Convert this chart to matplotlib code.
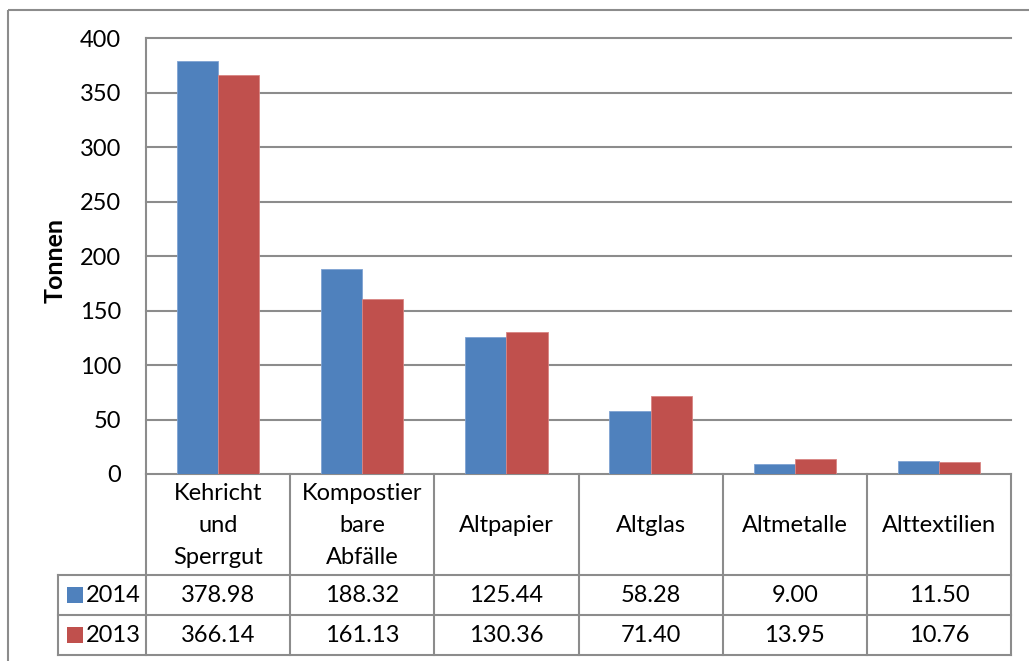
import matplotlib
matplotlib.use("Agg")
import matplotlib.pyplot as plt
from matplotlib.transforms import blended_transform_factory
from matplotlib.patches import Rectangle
import numpy as np

plt.rcParams['font.family'] = ['Lato', 'DejaVu Sans']

# Abfallmengen in Tonnen
kategorien = ["Kehricht\nund\nSperrgut", "Kompostier\nbare\nAbfälle", "Altpapier",
              "Altglas", "Altmetalle", "Alttextilien"]
jahre = ["2014", "2013"]
werte_2014 = [378.98, 188.32, 125.44, 58.28, 9.00, 11.50]
werte_2013 = [366.14, 161.13, 130.36, 71.40, 13.95, 10.76]
y_ticks = [0, 50, 100, 150, 200, 250, 300, 350, 400]

farben = ["#4F81BD", "#C0504D"]
grau = "#8C8C8C"
fs = 17

W, H = 1029, 661
fig = plt.figure(figsize=(W / 100, H / 100), dpi=100)

# Überlagerung in Pixelkoordinaten für Rahmen und Tabelle
over = fig.add_axes([0, 0, 1, 1], zorder=0)
over.set_xlim(0, W)
over.set_ylim(H, 0)
over.axis("off")
over.add_patch(Rectangle((8, 10), W + 20, H + 20, fill=False, ec=grau, lw=1.5,
                         clip_on=False))

ax_l, ax_r, ax_t, ax_b = 146, 1011, 38.5, 474
ax = fig.add_axes([ax_l / W, 1 - ax_b / H, (ax_r - ax_l) / W, (ax_b - ax_t) / H], zorder=1)
ax.patch.set_alpha(0)

x = np.arange(len(kategorien))
bw = 1 / 3.5
ax.bar(x - bw / 2, werte_2014, bw, color=farben[0], edgecolor="#7FA3D3", lw=0.6, zorder=3)
ax.bar(x + bw / 2, werte_2013, bw, color=farben[1], edgecolor="#D98583", lw=0.6, zorder=3)

ax.set_xlim(-0.5, len(kategorien) - 0.5)
ax.set_ylim(0, 400)
ax.set_yticks(y_ticks)
ax.set_yticklabels([str(v) for v in y_ticks], fontsize=fs)
ax.tick_params(axis="y", length=0, pad=18)
ax.set_xticks([])
for yv in y_ticks[1:]:
    ax.axhline(yv, color=grau, lw=1.5, zorder=0, clip_on=False)
for s in ["top", "right", "bottom"]:
    ax.spines[s].set_visible(False)
ax.spines["left"].set_color(grau)
ax.spines["left"].set_linewidth(1.5)
ax.set_ylabel("Tonnen", fontsize=18, fontweight="bold")
ax.yaxis.set_label_coords(-0.0913, 0.49)

# Datentabelle unter dem Diagramm
tr = blended_transform_factory(ax.transData, over.transData)
zeilen = [474, 575, 615, 655]
leg_l = 58
kw = dict(color=grau, lw=1.5, clip_on=False)
# horizontale Linien
over.plot([ax_l, ax_r], [zeilen[0]] * 2, **kw)
for yy in zeilen[1:]:
    over.plot([leg_l, ax_r], [yy] * 2, **kw)
# vertikale Linien
for i in range(len(kategorien) + 1):
    over.plot([i - 0.5, i - 0.5], [zeilen[0], zeilen[-1]], transform=tr, **kw)
over.plot([leg_l, leg_l], [zeilen[1], zeilen[-1]], **kw)

for i, k in enumerate(kategorien):
    over.text(i, (zeilen[0] + zeilen[1]) / 2 + 1, k, transform=tr, ha="center", va="center",
              fontsize=fs, linespacing=1.65)

for r, (jahr, werte) in enumerate(zip(jahre, [werte_2014, werte_2013])):
    ym = (zeilen[r + 1] + zeilen[r + 2]) / 2
    over.add_patch(Rectangle((67, ym - 8), 16, 16, color=farben[r], lw=0))
    over.text(86, ym + 1, jahr, ha="left", va="center", fontsize=fs)
    for i, v in enumerate(werte):
        over.text(i, ym + 1, f"{v:.2f}", transform=tr, ha="center", va="center", fontsize=fs)

fig.savefig("out.png", dpi=100)
